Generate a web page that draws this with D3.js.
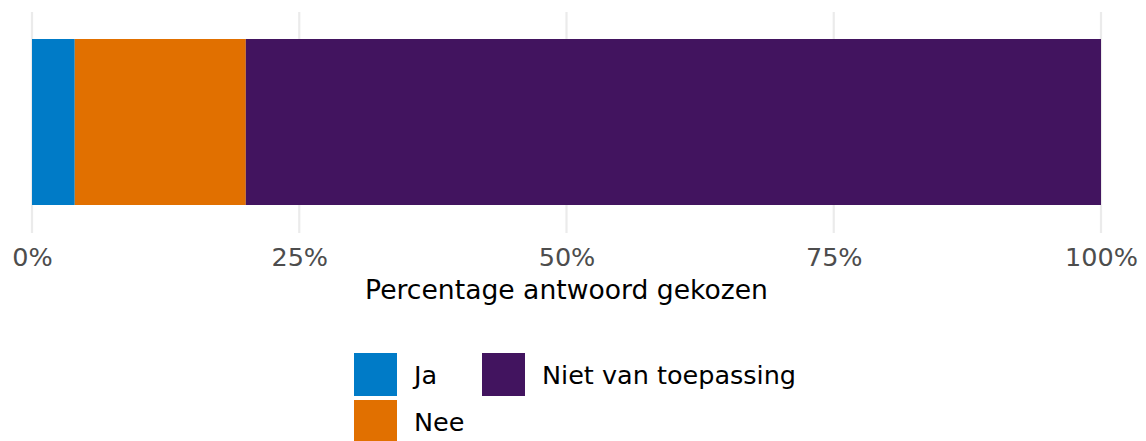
<!DOCTYPE html>
<html><head><meta charset="utf-8">
<script src="https://cdn.jsdelivr.net/npm/d3@7"></script>
<style>body{margin:0;background:#fff}svg{display:block}</style>
</head><body>
<svg id="c" width="1146" height="441"></svg>
<script>
const categories = ["Ja", "Nee", "Niet van toepassing"];
const values = [4.0, 16.0, 80.0];
const colors = ["#007BC7", "#E17000", "#42145F"];
const tickValues = [0, 25, 50, 75, 100];
const tickLabels = ["0%", "25%", "50%", "75%", "100%"];
const xTitle = "Percentage antwoord gekozen";

const svg = d3.select("#c");
const font = "DejaVu Sans, Verdana, sans-serif";
const x = d3.scaleLinear().domain([0, 100]).range([32, 1101]);
const y = d3.scaleBand().domain(["q"]).range([39, 205]).padding(0);

// gridlines
svg.append("g").selectAll("line").data(tickValues).join("line")
  .attr("x1", d => x(d)).attr("x2", d => x(d))
  .attr("y1", 12).attr("y2", 233)
  .attr("stroke", "#ebebeb").attr("stroke-width", 2.2);

// stacked bar
let cum = 0;
const stacked = values.map((v, i) => { const s = { c: categories[i], x0: cum, x1: cum + v, col: colors[i] }; cum += v; return s; });
svg.append("g").selectAll("rect").data(stacked).join("rect")
  .attr("x", d => x(d.x0)).attr("width", d => x(d.x1) - x(d.x0))
  .attr("y", y("q")).attr("height", y.bandwidth())
  .attr("fill", d => d.col);

// axis
const axis = d3.axisBottom(x).tickValues(tickValues).tickFormat((d, i) => tickLabels[i]).tickSize(0).tickPadding(0);
const ag = svg.append("g").attr("transform", "translate(0,247)").call(axis);
ag.select(".domain").remove();
ag.selectAll("text").attr("font-family", font).attr("font-size", 25.5).attr("fill", "#4d4d4d").attr("dy", "0.75em");

svg.append("text").attr("x", x(50)).attr("y", 299).attr("text-anchor", "middle")
  .attr("font-family", font).attr("font-size", 26.6).attr("fill", "#000").text(xTitle);

// legend (column-major, 2 rows)
const legPos = [[354, 353], [354, 400], [482, 353]];
const lg = svg.append("g").selectAll("g").data(categories).join("g")
  .attr("transform", (d, i) => `translate(${legPos[i][0]},${legPos[i][1]})`);
lg.append("rect").attr("width", 43).attr("height", 43).attr("fill", (d, i) => colors[i]);
lg.append("text").attr("x", 60).attr("y", 31).attr("font-family", font).attr("font-size", 25.5)
  .attr("fill", "#000").text(d => d);
</script>
</body></html>
